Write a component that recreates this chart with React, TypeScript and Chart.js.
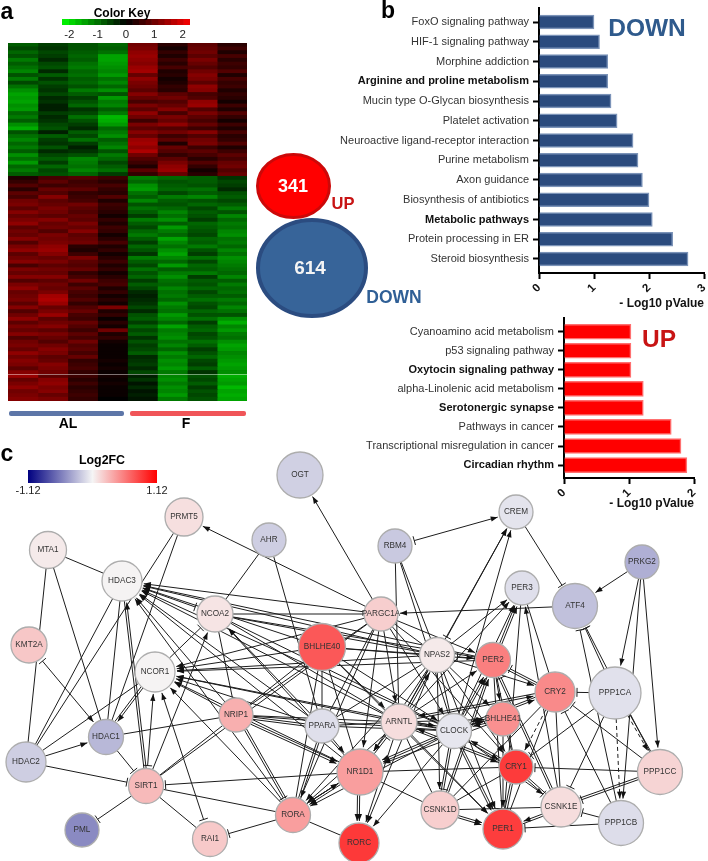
import React, { useEffect, useRef } from "react";
import { Chart, registerables } from "chart.js";

Chart.register(...registerables);
Chart.defaults.font.family = "'Liberation Sans', Arial, sans-serif";
(Chart.defaults as any).layout.autoPadding = false;

const downCategories = ["FoxO signaling pathway","HIF-1 signaling pathway","Morphine addiction","Arginine and proline metabolism","Mucin type O-Glycan biosynthesis","Platelet activation","Neuroactive ligand-receptor interaction","Purine metabolism","Axon guidance","Biosynthesis of antibiotics","Metabolic pathways","Protein processing in ER","Steroid biosynthesis"];
const downValues = [1.0,1.1,1.25,1.25,1.31,1.42,1.71,1.8,1.88,2.0,2.06,2.43,2.71];
const downBold = ["Arginine and proline metabolism","Metabolic pathways"];
const upCategories = ["Cyanoamino acid metabolism","p53 signaling pathway","Oxytocin signaling pathway","alpha-Linolenic acid metabolism","Serotonergic synapse","Pathways in cancer","Transcriptional misregulation in cancer","Circadian rhythm"];
const upValues = [1.03,1.03,1.03,1.22,1.22,1.65,1.8,1.89];
const upBold = ["Oxytocin signaling pathway","Serotonergic synapse","Circadian rhythm"];

const vennCounts = [341,614];
const vennX = [293.5,312];
const vennY = [186,268];

const keyBins = [-2.26,-2.03,-1.8,-1.58,-1.35,-1.13,-0.9,-0.68,-0.45,-0.23,0,0.23,0.45,0.68,0.9,1.13,1.35,1.58,1.8,2.03,2.26];

const heatTopRows = [
[-9,-6,-8,-10,11,4,9,4],[-7,-5,-8,-9,12,2,10,6],[-10,-7,-9,-11,14,5,11,3],[-8,-6,-10,-16,15,3,9,7],[-12,-4,-9,-16,14,6,12,4],
[-9,-7,-11,-15,13,4,10,6],[-11,-8,-12,-14,15,7,8,5],[-13,-4,-10,-13,16,3,11,8],[-8,-9,-11,-15,10,4,13,3],[-12,-5,-9,-11,14,2,12,7],
[-7,-8,-10,-13,12,3,9,5],[-11,-6,-8,-10,11,5,14,6],[-14,-5,-12,-14,9,4,13,3],[-16,-7,-9,-8,13,9,7,5],[-15,-4,-6,-15,10,11,8,4],
[-16,-5,-8,-12,7,8,14,2],[-14,-3,-10,-13,12,10,15,6],[-15,-3,-5,-9,9,13,8,3],[-10,-6,-7,-12,14,7,12,8],[-12,-4,-11,-18,11,12,9,5],
[-9,-5,-8,-17,6,10,7,2],[-14,-7,-6,-15,12,14,10,6],[-17,-8,-4,-10,9,8,6,3],[-8,-3,-9,-12,13,11,13,7],[-11,-9,-7,-14,10,6,8,4],
[-13,-6,-11,-9,15,9,11,5],[-10,-5,-6,-11,16,3,12,8],[-12,-8,-3,-13,14,10,6,3],[-9,-4,-5,-8,17,8,9,6],[-14,-7,-8,-12,11,5,7,9],
[-11,-9,-13,-10,8,9,4,7],[-15,-6,-12,-7,6,12,8,10],[-10,-10,-11,-9,3,14,5,11],[-12,-7,-13,-11,9,15,2,8],[-9,-8,-10,-6,5,10,4,10]
];
const heatBottomRows = [
[3,7,8,6,-12,-10,-9,-5],[5,9,6,4,-10,-8,-9,-7],[8,6,7,7,-14,-9,-8,-6],[4,10,9,5,-15,-10,-11,-4],[9,8,5,4,-11,-7,-9,-8],
[7,13,6,8,-9,-12,-13,-9],[11,9,7,3,-13,-9,-8,-7],[12,10,11,6,-8,-8,-10,-9],[9,12,9,5,-11,-10,-7,-12],[13,11,8,4,-9,-13,-9,-8],
[10,9,10,2,-6,-11,-8,-13],[12,13,9,5,-12,-14,-6,-10],[14,10,12,3,-9,-9,-10,-12],[9,11,10,6,-7,-15,-9,-11],[11,8,13,5,-10,-12,-8,-13],
[10,12,9,2,-12,-10,-7,-14],[13,11,10,4,-9,-16,-10,-11],[8,12,11,7,-6,-13,-9,-12],[12,14,4,3,-10,-11,-12,-10],[14,15,3,5,-8,-14,-8,-13],
[9,13,6,2,-5,-16,-6,-11],[11,10,12,4,-12,-13,-11,-14],[13,12,9,6,-9,-10,-7,-13],[7,9,8,3,-7,-15,-10,-12],[12,11,10,5,-11,-9,-9,-11],
[10,10,5,2,-8,-12,-12,-10],[13,13,7,4,-10,-14,-6,-13],[8,9,11,6,-6,-11,-9,-9],[12,11,6,7,-9,-10,-8,-12],[14,10,9,3,-7,-13,-10,-10],
[10,12,7,5,-4,-11,-7,-11],[11,16,6,2,-3,-12,-9,-9],[12,17,8,4,-4,-10,-11,-12],[9,15,5,2,-5,-14,-8,-10],[13,10,8,12,-7,-12,-7,-13],
[8,12,10,3,-4,-11,-10,-11],[11,15,7,5,-8,-15,-8,-8],[14,9,6,1,-9,-13,-11,-14],[9,11,10,4,-6,-10,-6,-17],[12,13,8,2,-10,-16,-9,-13],
[10,9,6,11,-7,-12,-10,-15],[13,12,9,3,-9,-13,-7,-12],[8,10,7,5,-5,-14,-8,-11],[11,8,11,2,-8,-11,-11,-14],[12,11,8,1,-6,-13,-9,-16],
[10,13,9,1,-7,-10,-6,-15],[14,12,7,1,-9,-14,-8,-13],[11,9,10,1,-4,-12,-10,-14],[13,10,5,2,-5,-14,-7,-15],[12,13,6,1,-6,-13,-6,-16],
[9,12,7,2,-4,-15,-9,-15],[13,11,5,1,-7,-12,-5,-14],[15,9,6,2,-3,-13,-8,-17],[10,13,4,1,-5,-14,-7,-16],[12,14,6,2,-2,-12,-9,-15],
[14,12,4,1,-4,-14,-6,-18],[11,13,5,1,-2,-13,-8,-16],[12,10,6,1,-3,-15,-7,-17],[13,12,5,0,-2,-12,-8,-16]
];

const nodeNames = ["OGT","PRMT5","AHR","MTA1","HDAC3","NCOA2","KMT2A","BHLHE40","NCOR1","HDAC1","HDAC2","SIRT1","NRIP1","PPARA","NR1D1","RORA","PML","RAI1","RORC","CREM","RBM4","PER3","PRKG2","ATF4","PARGC1A","NPAS2","PER2","CRY2","PPP1CA","ARNTL","CLOCK","BHLHE41","CRY1","PPP1CC","CSNK1D","CSNK1E","PPP1CB","PER1"];
const nodeX = [300,184,269,48,122,215,29,322,155,106,26,146,236,322,360,293,82,210,359,516,395,522,642,575,381,437,493,555,615,399,454,503,516,660,440,561,621,503];
const nodeY = [475,517,540,550,581,614,645,647,672,737,762,786,715,726,772,815,830,839,843,512,546,588,562,606,614,655,660,692,693,722,731,719,767,772,810,807,823,829];
const nodeR = [23,19,17,18.5,20,18,18,23.5,20,17.5,20,17.5,17,17,23,17.5,17,17.5,20,17,17,17,17,22.5,17,17.5,17.5,20,26,18,17.5,17,17,22.5,19,20,22.5,20];
const nodeFC = [-0.17,0.1,-0.18,0.05,0.01,0.08,0.21,0.72,0.01,-0.28,-0.18,0.27,0.32,-0.1,0.4,0.4,-0.49,0.2,0.86,-0.08,-0.2,-0.1,-0.32,-0.24,0.18,0.05,0.54,0.49,-0.09,0.11,-0.07,0.46,0.85,0.15,0.18,0.11,-0.11,0.84];

const edgeList = [
"PARGC1A>OGT","PARGC1A>PRMT5","MTA1-HDAC3","MTA1-HDAC2","MTA1-HDAC1","PRMT5-HDAC2","PRMT5-HDAC1","KMT2A=HDAC1","AHR-NCOA2","AHR-PPARA",
"HDAC3-HDAC2","HDAC3-HDAC1","HDAC3-SIRT1","NCOA2=HDAC3","NCOR1|NCOA2","SIRT1>NCOA2","BHLHE40>HDAC3","PARGC1A>HDAC3","NPAS2>HDAC3","ARNTL>HDAC3",
"CLOCK>HDAC3","PER2>HDAC3","NRIP1>HDAC3","PPARA>HDAC3","NR1D1>HDAC3","RORA>HDAC3","BHLHE40>NCOR1","PARGC1A>NCOR1","NPAS2>NCOR1","ARNTL>NCOR1",
"CLOCK>NCOR1","PER2>NCOR1","NRIP1>NCOR1","PPARA>NCOR1","NR1D1>NCOR1","RORA>NCOR1","SIRT1=NCOR1","RAI1=NCOR1","HDAC2-NCOR1","NCOR1>HDAC1",
"NCOR1-HDAC1","HDAC2>HDAC1","HDAC2|SIRT1","HDAC1|SIRT1","SIRT1|PML","SIRT1-RAI1","SIRT1-RORA","NR1D1|SIRT1","HDAC1-NRIP1","RORA|RAI1",
"RORA-RORC","NRIP1-SIRT1","PARGC1A-SIRT1","SIRT1>HDAC3","NRIP1-PPARA","NRIP1-PPARA","NRIP1>NR1D1","NRIP1>NR1D1","NRIP1-ARNTL","NRIP1-CLOCK",
"NRIP1-BHLHE40","NRIP1-PARGC1A","NRIP1-NCOA2","NRIP1|RORA","RORA-NRIP1","PPARA-RORA","RORA-PPARA","PPARA>NR1D1","PPARA-ARNTL","PPARA-CLOCK",
"PPARA-BHLHE40","PPARA-PARGC1A","PPARA-NPAS2","NCOA2-PARGC1A","NCOA2-NPAS2","NCOA2-ARNTL","NCOA2-CLOCK","NR1D1>NCOA2","PPARA>NCOA2","NCOA2-PER2",
"BHLHE40-NPAS2","BHLHE40>ARNTL","BHLHE40>CLOCK","BHLHE40-NR1D1","BHLHE40>PER1","BHLHE40-PER2","BHLHE40-RORA","PARGC1A-NPAS2","PARGC1A>ARNTL","PARGC1A>CLOCK",
"PARGC1A>NR1D1","PARGC1A>RORA","PARGC1A>PER2","PARGC1A>CRY1","NPAS2>PER1","NPAS2>CRY1","NPAS2>CRY2","NPAS2>NR1D1","NPAS2>RORA","NPAS2>RORC",
"NPAS2-ARNTL","NPAS2-CLOCK","NPAS2>BHLHE41","NPAS2>CSNK1D","ATF4>PARGC1A","RBM4=CREM","RBM4-ARNTL","RBM4-NPAS2","RBM4-CLOCK","CREM|ATF4",
"PRKG2>ATF4","PRKG2>PPP1CA","PRKG2>PPP1CB","PRKG2>PPP1CC","PPP1CA|ATF4","PPP1CB|ATF4","PPP1CC|ATF4","NPAS2=CREM","ARNTL>CREM","CLOCK>CREM",
"NPAS2>PER3","CLOCK>PER3","PER2>PER3","PER2>PER3","CSNK1E>PER3","CRY2-PER3","PER3-PER1","ARNTL>PER3","NPAS2=PER2","CRY2|PER2",
"CSNK1E|PER2","PPP1CA|CRY2","PPP1CC|CRY2","PPP1CB|CRY2","PPP1CA|CSNK1E","PPP1CA|CRY1","PPP1CC|CRY1","PPP1CA:PPP1CB","PPP1CA:PPP1CC","PPP1CC-PPP1CA",
"CRY2:CRY1","PPP1CC|CSNK1E","PPP1CC-CSNK1E","PPP1CB|CSNK1E","PPP1CB|PER1","CSNK1E>PER1","CSNK1D>PER1","CSNK1D>PER1","CSNK1D-CSNK1E","CSNK1D-NR1D1",
"NR1D1-CRY1","NR1D1|ARNTL","ARNTL>NR1D1","CLOCK>NR1D1","CLOCK>NR1D1","NR1D1>RORC","NR1D1>RORC","ARNTL>RORC","CLOCK>RORC","CRY1-PER1",
"CRY1-PER1","CRY1>CLOCK","CRY1>ARNTL","BHLHE41>CLOCK","BHLHE41>CLOCK","CLOCK-ARNTL","CLOCK-ARNTL","ARNTL>CLOCK","ARNTL>PER1","ARNTL>PER2",
"ARNTL>CRY1","ARNTL>CRY2","ARNTL>BHLHE41","ARNTL-CSNK1D","ARNTL>RORA","ARNTL>NPAS2","CLOCK>PER1","CLOCK>PER1","CLOCK>PER2","CLOCK>PER2",
"CLOCK>CRY1","CLOCK>CRY2","CLOCK>BHLHE41","CLOCK|CSNK1D","CLOCK-CSNK1D","CLOCK>RORA","CLOCK>CSNK1E","PER2>BHLHE41","PER2-PER1","PER2-CSNK1D",
"PER2-CSNK1E","PER2-CRY1","PER2-CRY2","CSNK1D>PER2","CRY2>CLOCK","CRY2>ARNTL","CRY2-PER1","CRY2-CSNK1E","CRY2-CSNK1D","BHLHE41-CRY1",
"BHLHE41>PER1","BHLHE41>NR1D1","CRY1-CSNK1D","CRY1-CSNK1E","CRY1|CSNK1E","PER1-CSNK1E","NR1D1>RORA","NR1D1>RORA","RORA>NR1D1","RORA>NR1D1"
];

const axisWidth = 2;
const barBlue = "#2b4b7e", barBlueEdge = "#7b93b8", barRed = "#ff0000", barRedEdge = "#ff7070";

function heatColor(v: number) {
  const t = Math.min(1, Math.abs(v) / 23);
  const c = Math.round(255 * t);
  return v < 0 ? `rgb(0,${c},0)` : `rgb(${c},0,0)`;
}
function fcColor(v: number) {
  const t = Math.min(1, Math.abs(v) / 1.12);
  const mix = (a: number, b: number) => Math.round(a + (b - a) * t);
  return v < 0 ? `rgb(${mix(245, 0)},${mix(245, 0)},${mix(245, 128)})` : `rgb(${mix(245, 255)},${mix(245, 0)},${mix(245, 0)})`;
}

function heatConfig() {
  const rows = [...heatTopRows, ...heatBottomRows];
  const labels = rows.map((_, i) => String(i));
  const datasets = [0,1,2,3,4,5,6,7].map((c) => ({
    data: rows.map((r) => [c, c + 1]),
    backgroundColor: rows.map((r) => heatColor(r[c] * 0.92)),
    borderWidth: 0, barPercentage: 1, categoryPercentage: 1, grouped: false,
  }));
  return {
    type: "bar",
    data: { labels, datasets },
    options: {
      indexAxis: "y", responsive: false, animation: false, events: [],
      plugins: { legend: { display: false }, tooltip: { enabled: false } },
      layout: { padding: 0 },
      scales: { x: { display: false, type: "linear", min: 0, max: 8 }, y: { display: false } },
    },
  };
}

function keyConfig() {
  const bins = keyBins.slice(0, -1).map((b, i) => [b, keyBins[i + 1]]);
  return {
    type: "bar",
    data: { labels: ["key"], datasets: bins.map((b) => ({
      data: [b], backgroundColor: heatColor(((b[0] + b[1]) / 2) * 10), borderWidth: 0,
      barPercentage: 1, categoryPercentage: 1, grouped: false,
    })) },
    options: {
      indexAxis: "y", responsive: false, animation: false, events: [],
      plugins: { legend: { display: false }, tooltip: { enabled: false } },
      layout: { padding: { left: 12, right: 20, top: 4, bottom: 0 } },
      scales: {
        y: { display: false },
        x: {
          type: "linear", min: -2.26, max: 2.26, border: { display: false },
          grid: { display: false, drawTicks: false },
          afterBuildTicks: (a: any) => { a.ticks = [-2,-1,0,1,2].map((value) => ({ value })); },
          afterFit: (a: any) => { a.height = 17; a.paddingLeft = 0; a.paddingRight = 0; },
          ticks: { color: "#222", font: { size: 11.5 }, padding: 3, maxRotation: 0, autoSkip: false },
        },
      },
    },
  };
}

function barConfig(cats: string[], vals: number[], bold: string[], fill: string, edge: string, xMax: number, yMin: number, yMax: number, thick: number, leftW: number, top: number, axisH: number, right: number) {
  const isBold = (c: any) => !!c.tick && bold.includes(cats[c.tick.value]);
  return {
    type: "bar",
    data: { datasets: [{
      data: vals.map((x, y) => ({ x, y })), backgroundColor: fill, borderColor: edge, borderWidth: 1.5,
      barThickness: thick,
    }] },
    options: {
      indexAxis: "y", responsive: false, animation: false, events: [],
      plugins: { legend: { display: false }, tooltip: { enabled: false } },
      layout: { padding: { top, right, left: 0, bottom: 0 } },
      scales: {
        y: {
          type: "linear", reverse: true, min: yMin, max: yMax, offset: false,
          border: { color: "#000", width: axisWidth },
          grid: { offset: false, drawOnChartArea: false, color: "#000", tickWidth: 2, tickLength: 6 },
          afterBuildTicks: (a: any) => { a.ticks = cats.map((_, value) => ({ value })); },
          afterFit: (a: any) => { a.width = leftW; a.paddingTop = 0; a.paddingBottom = 0; },
          ticks: {
            autoSkip: false, padding: 4, color: (c: any) => (isBold(c) ? "#111" : "#333"),
            font: (c: any) => ({ size: 11, weight: isBold(c) ? "bold" : "normal" }),
            callback: (v: any) => cats[v],
          },
        },
        x: {
          type: "linear", min: 0, max: xMax,
          border: { color: "#000", width: axisWidth },
          grid: { drawOnChartArea: false, color: "#000", tickWidth: 2, tickLength: 6 },
          afterBuildTicks: (a: any) => { const t = []; for (let value = 0; value <= xMax; value++) t.push({ value }); a.ticks = t; },
          afterFit: (a: any) => { a.height = axisH; a.paddingLeft = 0; a.paddingRight = 0; },
          ticks: { minRotation: 45, maxRotation: 45, color: "#111", font: { size: 11.5, weight: "bold" }, padding: 2, align: "center" },
          title: { display: true, text: "- Log10 pValue", align: "end", color: "#111", font: { size: 12, weight: "bold" }, padding: { top: 0, bottom: 4 } },
        },
      },
    },
  };
}

function ellipseSprite(rx: number, ry: number, fill: string, edge: string, lw: number) {
  const c = document.createElement("canvas");
  c.width = Math.ceil(rx * 2 + 2);
  c.height = Math.ceil(ry * 2 + 2);
  const g = c.getContext("2d")!;
  g.beginPath();
  g.ellipse(c.width / 2, c.height / 2, rx - lw / 2, ry - lw / 2, 0, 0, Math.PI * 2);
  g.fillStyle = fill;
  g.fill();
  g.lineWidth = lw;
  g.strokeStyle = edge;
  g.stroke();
  return c;
}

function vennConfig() {
  return {
    type: "scatter",
    data: { datasets: [{
      data: vennCounts.map((count, i) => ({ x: vennX[i], y: vennY[i], count })),
      pointStyle: [ellipseSprite(37.5, 33, "#ff0000", "#cc0808", 3), ellipseSprite(56, 50, "#376499", "#2b4c80", 4)],
      pointRadius: 10, clip: false,
    }] },
    options: {
      responsive: false, animation: false, events: [],
      plugins: { legend: { display: false }, tooltip: { enabled: false } },
      layout: { padding: 0 },
      scales: {
        x: { display: false, type: "linear", min: 250, max: 375 },
        y: { display: false, type: "linear", min: 148, max: 322, reverse: true },
      },
    },
  };
}

function colorbarConfig() {
  return {
    type: "bar",
    data: { labels: ["Log2FC"], datasets: [{
      data: [[-1.12, 1.12]], barPercentage: 1, categoryPercentage: 1, borderWidth: 0,
      backgroundColor: (ctx: any) => {
        const s = ctx.chart.scales.x;
        if (!s || !Number.isFinite(s.left) || !Number.isFinite(s.right)) return "#888";
        const g = ctx.chart.ctx.createLinearGradient(s.left, 0, s.right, 0);
        g.addColorStop(0, "#000080");
        g.addColorStop(0.5, "#f5f5f5");
        g.addColorStop(1, "#ff0000");
        return g;
      },
    }] },
    options: {
      indexAxis: "y", responsive: false, animation: false, events: [],
      plugins: { legend: { display: false }, tooltip: { enabled: false } },
      layout: { padding: { left: 18, right: 23, top: 8, bottom: 0 } },
      scales: {
        y: { display: false },
        x: {
          type: "linear", min: -1.12, max: 1.12, border: { display: false },
          grid: { display: false, drawTicks: false },
          afterBuildTicks: (a: any) => { a.ticks = [-1.12, 1.12].map((value) => ({ value })); },
          afterFit: (a: any) => { a.height = 14; a.paddingLeft = 0; a.paddingRight = 0; },
          ticks: { color: "#222", font: { size: 11 }, padding: 1, maxRotation: 0, autoSkip: false, callback: (v: any) => String(v) },
        },
      },
    },
  };
}

const edgePlugin = {
  id: "edges",
  beforeDatasetsDraw(chart: any) {
    const { ctx, scales } = chart;
    const seen: Record<string, number> = {};
    ctx.save();
    ctx.strokeStyle = "#1c1c1c";
    ctx.fillStyle = "#111";
    ctx.lineWidth = 1;
    for (const e of edgeList) {
      const m = e.match(/^(\w+)([>|=:\-])(\w+)$/);
      if (!m) continue;
      const a = nodeNames.indexOf(m[1]), b = nodeNames.indexOf(m[3]), kind = m[2];
      const key = a < b ? `${a}-${b}` : `${b}-${a}`;
      seen[key] = (seen[key] || 0) + 1;
      const off = seen[key] === 1 ? 0 : seen[key] === 2 ? 2.2 : -2.2;
      const ax = scales.x.getPixelForValue(nodeX[a]), ay = scales.y.getPixelForValue(nodeY[a]);
      const bx = scales.x.getPixelForValue(nodeX[b]), by = scales.y.getPixelForValue(nodeY[b]);
      const d = Math.hypot(bx - ax, by - ay);
      const ux = (bx - ax) / d, uy = (by - ay) / d, px = -uy, py = ux;
      const sGap = nodeR[a] + (kind === "=" ? 3 : 0), eGap = nodeR[b] + (kind === "-" ? 0 : 2);
      const sx = ax + ux * sGap + px * off, sy = ay + uy * sGap + py * off;
      const tx = bx - ux * eGap + px * off, ty = by - uy * eGap + py * off;
      ctx.setLineDash(kind === ":" ? [4, 3] : []);
      ctx.beginPath();
      ctx.moveTo(sx, sy);
      ctx.lineTo(tx, ty);
      ctx.stroke();
      ctx.setLineDash([]);
      if (kind === ">" || kind === "=" || kind === ":") {
        ctx.beginPath();
        ctx.moveTo(tx, ty);
        ctx.lineTo(tx - ux * 7 + px * 2.6, ty - uy * 7 + py * 2.6);
        ctx.lineTo(tx - ux * 7 - px * 2.6, ty - uy * 7 - py * 2.6);
        ctx.closePath();
        ctx.fill();
      }
      const tee = (x: number, y: number) => {
        ctx.beginPath();
        ctx.moveTo(x + px * 4.5, y + py * 4.5);
        ctx.lineTo(x - px * 4.5, y - py * 4.5);
        ctx.stroke();
      };
      if (kind === "|") tee(tx, ty);
      if (kind === "=") tee(sx, sy);
    }
    ctx.restore();
  },
  afterDatasetsDraw(chart: any) {
    const { ctx, scales } = chart;
    ctx.save();
    ctx.font = "8.2px 'Liberation Sans', Arial, sans-serif";
    ctx.fillStyle = "#333";
    ctx.textAlign = "center";
    ctx.textBaseline = "middle";
    nodeNames.forEach((n, i) => {
      ctx.fillText(n, scales.x.getPixelForValue(nodeX[i]), scales.y.getPixelForValue(nodeY[i]));
    });
    ctx.restore();
  },
};

function networkConfig() {
  return {
    type: "bubble",
    data: { datasets: [{
      data: nodeNames.map((_, i) => ({ x: nodeX[i], y: nodeY[i], r: nodeR[i] })),
      backgroundColor: nodeFC.map(fcColor),
      borderColor: "#adadad",
      borderWidth: 1.3,
      clip: false,
    }] },
    options: {
      responsive: false, animation: false, events: [],
      plugins: { legend: { display: false }, tooltip: { enabled: false } },
      layout: { padding: 0 },
      scales: {
        x: { display: false, type: "linear", min: 0, max: 708 },
        y: { display: false, type: "linear", min: 440, max: 861, reverse: true },
      },
    },
    plugins: [edgePlugin],
  };
}

function Plot({ x, y, w, h, make, bg, filter }: { x: number; y: number; w: number; h: number; make: () => any; bg?: string; filter?: string }) {
  const ref = useRef<HTMLCanvasElement>(null);
  useEffect(() => {
    const chart = new Chart(ref.current as HTMLCanvasElement, make());
    return () => chart.destroy();
  }, []);
  return <canvas ref={ref} width={w} height={h} style={{ position: "absolute", left: x, top: y, width: w, height: h, background: bg, filter }} />;
}

function Txt({ x, y, size, color = "#000", bold = true, children }: { x: number; y: number; size: number; color?: string; bold?: boolean; children: React.ReactNode }) {
  return (
    <div style={{ position: "absolute", left: x, top: y, transform: "translate(-50%,-50%)", fontFamily: "'Liberation Sans', Arial, sans-serif", fontSize: size, fontWeight: bold ? 700 : 400, color, whiteSpace: "nowrap", lineHeight: 1 }}>
      {children}
    </div>
  );
}

export default function App() {
  return (
    <div style={{ position: "absolute", left: 0, top: 0, width: 708, height: 861, overflow: "hidden", background: "#fff", filter: "blur(0.35px)" }}>
      <Plot x={8} y={43} w={239} h={358} make={heatConfig} bg="#000" filter="blur(0.6px)" />
      <div style={{ position: "absolute", left: 8, top: 374, width: 239, height: 1, background: "rgba(255,255,255,0.45)" }} />
      <Plot x={50} y={15} w={160} h={27} make={keyConfig} />
      <Txt x={122} y={13} size={12}>Color Key</Txt>
      <div style={{ position: "absolute", left: 9, top: 411, width: 115, height: 4.5, borderRadius: 2, background: "#5d76a8" }} />
      <div style={{ position: "absolute", left: 130, top: 411, width: 116, height: 4.5, borderRadius: 2, background: "#f05558" }} />
      <Txt x={68} y={423} size={14}>AL</Txt>
      <Txt x={186} y={423} size={14}>F</Txt>

      <Plot x={250} y={148} w={125} h={174} make={vennConfig} />
      <Txt x={293} y={186} size={18} color="#fff">341</Txt>
      <Txt x={310} y={267} size={19} color="#f4f4f4">614</Txt>
      <Txt x={343} y={203} size={16.5} color="#c81414">UP</Txt>
      <Txt x={394} y={298} size={17.5} color="#2f5f96">DOWN</Txt>

      <Plot x={330} y={0} w={378} h={315} make={() => barConfig(downCategories, downValues, downBold, barBlue, barBlueEdge, 3, -0.71, 12.71, 14, 209, 8, 42, 4)} />
      <Txt x={647} y={28} size={24.5} color="#2f5a8c">DOWN</Txt>
      <Plot x={330} y={310} w={378} h={205} make={() => barConfig(upCategories, upValues, upBold, barRed, barRedEdge, 2, -0.72, 7.68, 15, 234, 8, 37, 14)} />
      <Txt x={659} y={339} size={24.5} color="#c81414">UP</Txt>

      <Plot x={0} y={440} w={708} h={421} make={networkConfig} />
      <Plot x={10} y={462} w={170} h={35} make={colorbarConfig} />
      <Txt x={102} y={460} size={12.4}>Log2FC</Txt>

      <Txt x={7} y={11} size={23}>a</Txt>
      <Txt x={388} y={10} size={23}>b</Txt>
      <Txt x={7} y={453} size={23}>c</Txt>
    </div>
  );
}
